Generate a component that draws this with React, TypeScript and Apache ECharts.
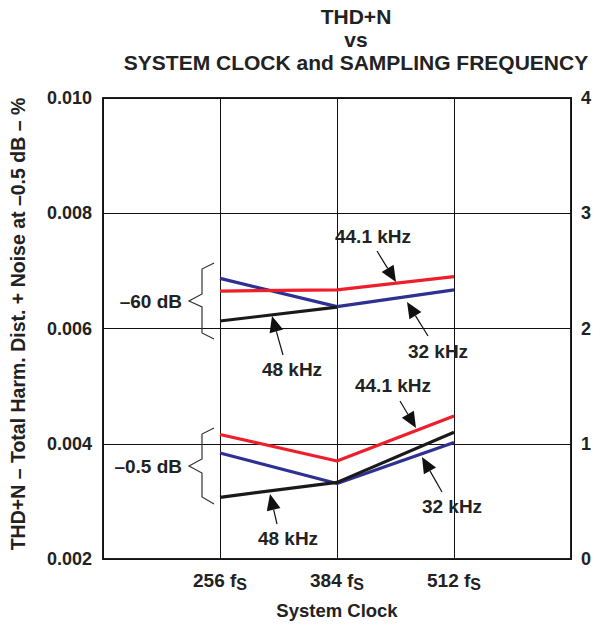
import React, { useEffect, useRef } from "react";
import * as echarts from "echarts";

const clocks = [256, 384, 512];
const xTickLabels = ["256", "384", "512"];
const leftTicks = [0.002, 0.004, 0.006, 0.008, 0.01];
const rightTicks = [0, 1, 2, 3, 4];

// -60 dB input level
const hz441_60 = [0.00665, 0.00667, 0.0069];
const hz32_60 = [0.00687, 0.00638, 0.00667];
const hz48_60 = [0.00613, 0.00637];
// -0.5 dB input level
const hz441_05 = [0.00416, 0.0037, 0.00448];
const hz32_05 = [0.00384, 0.00331, 0.00402];
const hz48_05 = [0.00307, 0.00333, 0.0042];

const RED = "#ee1f2b";
const BLUE = "#2e3192";
const BLACK = "#1a1a1a";
const FONT = "Liberation Sans, Arial, sans-serif";

function pairs(vals: number[]) {
  return vals.map((v, i) => [clocks[i], v]);
}

function arrow(x1: number, y1: number, x2: number, y2: number) {
  const dx = x2 - x1;
  const dy = y2 - y1;
  const len = Math.sqrt(dx * dx + dy * dy);
  const ux = dx / len;
  const uy = dy / len;
  const hl = 16;
  const hw = 7;
  const bx = x2 - ux * hl;
  const by = y2 - uy * hl;
  return [
    {
      type: "line",
      shape: { x1, y1, x2: bx, y2: by },
      style: { stroke: "#111", lineWidth: 1.2 },
      z: 10,
    },
    {
      type: "polygon",
      shape: {
        points: [
          [x2, y2],
          [bx - uy * hw, by + ux * hw],
          [bx + uy * hw, by - ux * hw],
        ],
      },
      style: { fill: "#111" },
      z: 10,
    },
  ];
}

function label(text: string, x: number, y: number, align = "center") {
  return {
    type: "text",
    x,
    y,
    z: 10,
    style: {
      text,
      fill: "#222",
      font: `bold 19px ${FONT}`,
      textAlign: align,
      textVerticalAlign: "middle",
    },
  };
}

function brace(pts: number[][]) {
  return {
    type: "polyline",
    shape: { points: pts },
    style: { stroke: "#333", lineWidth: 1.2, fill: null },
    z: 10,
  };
}

export default function App() {
  const ref = useRef<HTMLDivElement>(null);
  useEffect(() => {
    if (!ref.current) return;
    const chart = echarts.init(ref.current, undefined, { renderer: "svg" });
    const lineSeries = (name: string, data: number[], color: string) => ({
      name,
      type: "line",
      data: pairs(data),
      symbol: "none",
      lineStyle: { color, width: 3.2 },
      itemStyle: { color },
    });
    chart.setOption({
      animation: false,
      textStyle: { fontFamily: FONT },
      grid: {
        left: 103,
        top: 98,
        right: 31,
        bottom: 66,
        show: true,
        borderColor: "#222",
        borderWidth: 2,
      },
      xAxis: {
        type: "value",
        min: 128,
        max: 640,
        interval: 128,
        axisLine: { show: false },
        axisTick: { show: false },
        splitLine: { show: true, lineStyle: { color: "#111", width: 1 } },
        axisLabel: {
          margin: 12,
          formatter: (v: number) => {
            const i = clocks.indexOf(v);
            return i >= 0 ? `{a|${xTickLabels[i]} f}{s|S}` : "";
          },
          rich: {
            a: { fontSize: 19, fontWeight: "bold", color: "#222", fontFamily: FONT, lineHeight: 22, verticalAlign: "top" },
            s: { fontSize: 16, fontWeight: "bold", color: "#222", fontFamily: FONT, lineHeight: 22, verticalAlign: "top", padding: [5, 0, 0, 0] },
          },
        },
      },
      yAxis: [
        {
          type: "value",
          min: leftTicks[0],
          max: leftTicks[leftTicks.length - 1],
          interval: 0.002,
          axisLine: { show: false },
          axisTick: { show: false },
          splitLine: { show: true, lineStyle: { color: "#111", width: 1 } },
          axisLabel: {
            margin: 11,
            fontSize: 18,
            fontWeight: "bold",
            color: "#222",
            fontFamily: FONT,
            formatter: (v: number) => v.toFixed(3),
          },
        },
        {
          type: "value",
          position: "right",
          min: rightTicks[0],
          max: rightTicks[rightTicks.length - 1],
          interval: 1,
          axisLine: { show: false },
          axisTick: { show: false },
          splitLine: { show: false },
          axisLabel: {
            margin: 10,
            fontSize: 18,
            fontWeight: "bold",
            color: "#222",
            fontFamily: FONT,
          },
        },
      ],
      series: [
        lineSeries("32 kHz (-60 dB)", hz32_60, BLUE),
        lineSeries("48 kHz (-60 dB)", hz48_60, BLACK),
        lineSeries("44.1 kHz (-60 dB)", hz441_60, RED),
        lineSeries("32 kHz (-0.5 dB)", hz32_05, BLUE),
        lineSeries("48 kHz (-0.5 dB)", hz48_05, BLACK),
        lineSeries("44.1 kHz (-0.5 dB)", hz441_05, RED),
      ],
      graphic: [
        {
          type: "text",
          x: 356,
          y: 5,
          style: {
            text: "THD+N\nvs\nSYSTEM CLOCK and SAMPLING FREQUENCY",
            font: `bold 21px ${FONT}`,
            fill: "#222",
            textAlign: "center",
            lineHeight: 23,
          },
        },
        {
          type: "text",
          x: 18,
          y: 324,
          rotation: Math.PI / 2,
          style: {
            text: "THD+N – Total Harm. Dist. + Noise at –0.5 dB – %",
            font: `bold 19.5px ${FONT}`,
            fill: "#222",
            textAlign: "center",
            textVerticalAlign: "middle",
          },
        },
        {
          type: "text",
          x: 337,
          y: 610,
          style: {
            text: "System Clock",
            font: `bold 18.5px ${FONT}`,
            fill: "#222",
            textAlign: "center",
            textVerticalAlign: "middle",
          },
        },
        brace([[214, 263], [202, 269], [202, 294], [189, 301], [202, 307], [202, 333], [214, 339]]),
        brace([[214, 428], [202, 434], [202, 459], [189, 466], [202, 473], [202, 497], [214, 504]]),
        label("–60 dB", 182, 301, "right"),
        label("–0.5 dB", 182, 466, "right"),
        label("44.1 kHz", 373, 236),
        label("32 kHz", 438, 351),
        label("48 kHz", 292, 369),
        label("44.1 kHz", 393, 385),
        label("32 kHz", 452, 506),
        label("48 kHz", 288, 538),
        ...arrow(377, 251, 396, 282),
        ...arrow(428, 336, 407, 302),
        ...arrow(283, 355, 272, 316),
        ...arrow(400, 401, 416, 428),
        ...arrow(442, 492, 422, 457),
        ...arrow(277, 524, 270, 494),
      ],
    });
    return () => chart.dispose();
  }, []);
  return (
    <div
      ref={ref}
      style={{ position: "absolute", left: 0, top: 0, width: 602, height: 625 }}
    />
  );
}
